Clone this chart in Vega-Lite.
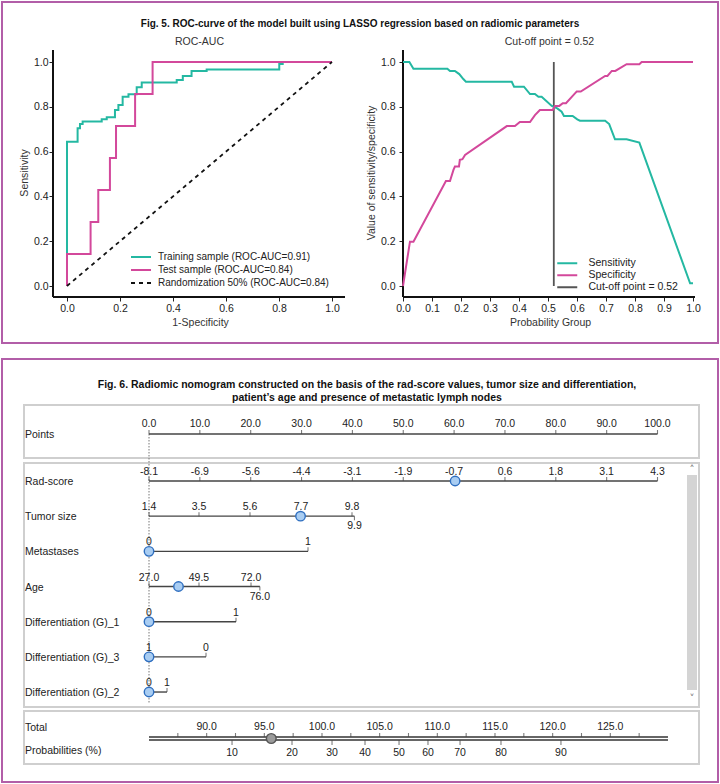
{
  "$schema": "https://vega.github.io/schema/vega-lite/v6.json",
  "padding": {"left": 1, "top": 1, "right": 1, "bottom": 0},
  "spacing": 14,
  "config": {
    "font": "Liberation Sans",
    "view": {"stroke": "#b25ea8", "strokeWidth": 2},
    "axis": {"grid": false, "domain": false, "labelFont": "Liberation Sans", "labelFontSize": 10.5, "labelColor": "#222", "titleFont": "Liberation Sans", "titleFontSize": 10.5, "titleFontWeight": "normal", "titleColor": "#333", "tickColor": "#222", "tickSize": 4, "tickWidth": 1, "labelFlush": false, "labelOverlap": false, "labelBound": false},
    "text": {"font": "Liberation Sans", "fontSize": 10.5, "color": "#222"},
    "title": {"font": "Liberation Sans", "color": "#111"}
  },
  "datasets": {
    "one": [{}],
    "roc": [
      {"series": "Training sample (ROC-AUC=0.91)", "fpr": 0, "tpr": 0},
      {"series": "Training sample (ROC-AUC=0.91)", "fpr": 0, "tpr": 0.644},
      {"series": "Training sample (ROC-AUC=0.91)", "fpr": 0.040, "tpr": 0.704},
      {"series": "Training sample (ROC-AUC=0.91)", "fpr": 0.049, "tpr": 0.723},
      {"series": "Training sample (ROC-AUC=0.91)", "fpr": 0.059, "tpr": 0.734},
      {"series": "Training sample (ROC-AUC=0.91)", "fpr": 0.131, "tpr": 0.744},
      {"series": "Training sample (ROC-AUC=0.91)", "fpr": 0.150, "tpr": 0.753},
      {"series": "Training sample (ROC-AUC=0.91)", "fpr": 0.181, "tpr": 0.786},
      {"series": "Training sample (ROC-AUC=0.91)", "fpr": 0.194, "tpr": 0.808},
      {"series": "Training sample (ROC-AUC=0.91)", "fpr": 0.210, "tpr": 0.845},
      {"series": "Training sample (ROC-AUC=0.91)", "fpr": 0.232, "tpr": 0.856},
      {"series": "Training sample (ROC-AUC=0.91)", "fpr": 0.263, "tpr": 0.887},
      {"series": "Training sample (ROC-AUC=0.91)", "fpr": 0.282, "tpr": 0.908},
      {"series": "Training sample (ROC-AUC=0.91)", "fpr": 0.414, "tpr": 0.920},
      {"series": "Training sample (ROC-AUC=0.91)", "fpr": 0.437, "tpr": 0.938},
      {"series": "Training sample (ROC-AUC=0.91)", "fpr": 0.470, "tpr": 0.960},
      {"series": "Training sample (ROC-AUC=0.91)", "fpr": 0.527, "tpr": 0.967},
      {"series": "Training sample (ROC-AUC=0.91)", "fpr": 0.801, "tpr": 0.991},
      {"series": "Training sample (ROC-AUC=0.91)", "fpr": 0.814, "tpr": 1.0},
      {"series": "Training sample (ROC-AUC=0.91)", "fpr": 1.0, "tpr": 1.0},
      {"series": "Test sample (ROC-AUC=0.84)", "fpr": 0, "tpr": 0},
      {"series": "Test sample (ROC-AUC=0.84)", "fpr": 0, "tpr": 0.143},
      {"series": "Test sample (ROC-AUC=0.84)", "fpr": 0.089, "tpr": 0.286},
      {"series": "Test sample (ROC-AUC=0.84)", "fpr": 0.118, "tpr": 0.429},
      {"series": "Test sample (ROC-AUC=0.84)", "fpr": 0.162, "tpr": 0.571},
      {"series": "Test sample (ROC-AUC=0.84)", "fpr": 0.185, "tpr": 0.714},
      {"series": "Test sample (ROC-AUC=0.84)", "fpr": 0.257, "tpr": 0.857},
      {"series": "Test sample (ROC-AUC=0.84)", "fpr": 0.323, "tpr": 1.0},
      {"series": "Test sample (ROC-AUC=0.84)", "fpr": 1.0, "tpr": 1.0},
      {"series": "Randomization 50% (ROC-AUC=0.84)", "fpr": 0, "tpr": 0},
      {"series": "Randomization 50% (ROC-AUC=0.84)", "fpr": 1, "tpr": 1}
    ],
    "thr": [
      {"series": "Sensitivity", "prob": 0.0, "value": 1.0},
      {"series": "Sensitivity", "prob": 0.022, "value": 1.0},
      {"series": "Sensitivity", "prob": 0.036, "value": 0.97},
      {"series": "Sensitivity", "prob": 0.153, "value": 0.97},
      {"series": "Sensitivity", "prob": 0.162, "value": 0.96},
      {"series": "Sensitivity", "prob": 0.179, "value": 0.96},
      {"series": "Sensitivity", "prob": 0.194, "value": 0.946},
      {"series": "Sensitivity", "prob": 0.208, "value": 0.924},
      {"series": "Sensitivity", "prob": 0.217, "value": 0.912},
      {"series": "Sensitivity", "prob": 0.375, "value": 0.912},
      {"series": "Sensitivity", "prob": 0.383, "value": 0.890},
      {"series": "Sensitivity", "prob": 0.417, "value": 0.890},
      {"series": "Sensitivity", "prob": 0.438, "value": 0.857},
      {"series": "Sensitivity", "prob": 0.455, "value": 0.857},
      {"series": "Sensitivity", "prob": 0.467, "value": 0.845},
      {"series": "Sensitivity", "prob": 0.478, "value": 0.845},
      {"series": "Sensitivity", "prob": 0.513, "value": 0.804},
      {"series": "Sensitivity", "prob": 0.532, "value": 0.793},
      {"series": "Sensitivity", "prob": 0.547, "value": 0.778},
      {"series": "Sensitivity", "prob": 0.555, "value": 0.759},
      {"series": "Sensitivity", "prob": 0.585, "value": 0.759},
      {"series": "Sensitivity", "prob": 0.601, "value": 0.744},
      {"series": "Sensitivity", "prob": 0.610, "value": 0.738},
      {"series": "Sensitivity", "prob": 0.697, "value": 0.738},
      {"series": "Sensitivity", "prob": 0.711, "value": 0.723},
      {"series": "Sensitivity", "prob": 0.731, "value": 0.655},
      {"series": "Sensitivity", "prob": 0.771, "value": 0.655},
      {"series": "Sensitivity", "prob": 0.815, "value": 0.640},
      {"series": "Sensitivity", "prob": 0.990, "value": 0.012},
      {"series": "Sensitivity", "prob": 1.0, "value": 0.012},
      {"series": "Specificity", "prob": 0.0, "value": 0.0},
      {"series": "Specificity", "prob": 0.024, "value": 0.198},
      {"series": "Specificity", "prob": 0.036, "value": 0.198},
      {"series": "Specificity", "prob": 0.148, "value": 0.469},
      {"series": "Specificity", "prob": 0.162, "value": 0.469},
      {"series": "Specificity", "prob": 0.174, "value": 0.518},
      {"series": "Specificity", "prob": 0.179, "value": 0.533},
      {"series": "Specificity", "prob": 0.193, "value": 0.533},
      {"series": "Specificity", "prob": 0.196, "value": 0.563},
      {"series": "Specificity", "prob": 0.205, "value": 0.566},
      {"series": "Specificity", "prob": 0.214, "value": 0.585},
      {"series": "Specificity", "prob": 0.358, "value": 0.714},
      {"series": "Specificity", "prob": 0.386, "value": 0.714},
      {"series": "Specificity", "prob": 0.403, "value": 0.732},
      {"series": "Specificity", "prob": 0.438, "value": 0.732},
      {"series": "Specificity", "prob": 0.455, "value": 0.763},
      {"series": "Specificity", "prob": 0.472, "value": 0.786},
      {"series": "Specificity", "prob": 0.516, "value": 0.786},
      {"series": "Specificity", "prob": 0.524, "value": 0.804},
      {"series": "Specificity", "prob": 0.539, "value": 0.804},
      {"series": "Specificity", "prob": 0.551, "value": 0.816},
      {"series": "Specificity", "prob": 0.562, "value": 0.816},
      {"series": "Specificity", "prob": 0.593, "value": 0.860},
      {"series": "Specificity", "prob": 0.599, "value": 0.868},
      {"series": "Specificity", "prob": 0.613, "value": 0.868},
      {"series": "Specificity", "prob": 0.697, "value": 0.938},
      {"series": "Specificity", "prob": 0.705, "value": 0.938},
      {"series": "Specificity", "prob": 0.720, "value": 0.960},
      {"series": "Specificity", "prob": 0.732, "value": 0.960},
      {"series": "Specificity", "prob": 0.771, "value": 0.990},
      {"series": "Specificity", "prob": 0.815, "value": 0.990},
      {"series": "Specificity", "prob": 0.823, "value": 1.0},
      {"series": "Specificity", "prob": 1.0, "value": 1.0},
      {"series": "Cut-off point = 0.52", "prob": 0.52, "value": 0.0},
      {"series": "Cut-off point = 0.52", "prob": 0.52, "value": 1.0}
    ],
    "pointsTicks": [
      {"pts": 0, "label": "0.0"}, {"pts": 10, "label": "10.0"}, {"pts": 20, "label": "20.0"},
      {"pts": 30, "label": "30.0"}, {"pts": 40, "label": "40.0"}, {"pts": 50, "label": "50.0"},
      {"pts": 60, "label": "60.0"}, {"pts": 70, "label": "70.0"}, {"pts": 80, "label": "80.0"},
      {"pts": 90, "label": "90.0"}, {"pts": 100, "label": "100.0"}
    ],
    "nomoTicks": [
      {"row": 1, "pts": 0, "label": "-8.1", "side": "above"},
      {"row": 1, "pts": 10, "label": "-6.9", "side": "above"},
      {"row": 1, "pts": 20, "label": "-5.6", "side": "above"},
      {"row": 1, "pts": 30, "label": "-4.4", "side": "above"},
      {"row": 1, "pts": 40, "label": "-3.1", "side": "above"},
      {"row": 1, "pts": 50, "label": "-1.9", "side": "above"},
      {"row": 1, "pts": 60, "label": "-0.7", "side": "above"},
      {"row": 1, "pts": 70, "label": "0.6", "side": "above"},
      {"row": 1, "pts": 80, "label": "1.8", "side": "above"},
      {"row": 1, "pts": 90, "label": "3.1", "side": "above"},
      {"row": 1, "pts": 100, "label": "4.3", "side": "above"},
      {"row": 2, "pts": 0, "label": "1.4", "side": "above"},
      {"row": 2, "pts": 9.83, "label": "3.5", "side": "above"},
      {"row": 2, "pts": 19.86, "label": "5.6", "side": "above"},
      {"row": 2, "pts": 29.89, "label": "7.7", "side": "above"},
      {"row": 2, "pts": 39.92, "label": "9.8", "side": "above"},
      {"row": 2, "pts": 40.4, "label": "9.9", "side": "below"},
      {"row": 3, "pts": 0, "label": "0", "side": "above"},
      {"row": 3, "pts": 31.27, "label": "1", "side": "above"},
      {"row": 4, "pts": 0, "label": "27.0", "side": "above"},
      {"row": 4, "pts": 9.83, "label": "49.5", "side": "above"},
      {"row": 4, "pts": 20.06, "label": "72.0", "side": "above"},
      {"row": 4, "pts": 21.8, "label": "76.0", "side": "below"},
      {"row": 5, "pts": 0, "label": "0", "side": "above"},
      {"row": 5, "pts": 17.11, "label": "1", "side": "above"},
      {"row": 6, "pts": 0, "label": "1", "side": "above"},
      {"row": 6, "pts": 11.21, "label": "0", "side": "above"},
      {"row": 7, "pts": 0, "label": "0", "side": "above"},
      {"row": 7, "pts": 3.54, "label": "1", "side": "above"}
    ],
    "nomoLabels": [
      {"row": 1, "name": "Rad-score"},
      {"row": 2, "name": "Tumor size"},
      {"row": 3, "name": "Metastases"},
      {"row": 4, "name": "Age"},
      {"row": 5, "name": "Differentiation (G)_1"},
      {"row": 6, "name": "Differentiation (G)_3"},
      {"row": 7, "name": "Differentiation (G)_2"}
    ],
    "nomoPoints": [
      {"row": 1, "pts": 60.2}, {"row": 2, "pts": 29.8}, {"row": 3, "pts": 0},
      {"row": 4, "pts": 5.8}, {"row": 5, "pts": 0}, {"row": 6, "pts": 0}, {"row": 7, "pts": 0}
    ],
    "totalTicks": [
      {"total": 87.5, "label": ""}, {"total": 90, "label": "90.0"}, {"total": 92.5, "label": ""},
      {"total": 95, "label": "95.0"}, {"total": 97.5, "label": ""}, {"total": 100, "label": "100.0"},
      {"total": 102.5, "label": ""}, {"total": 105, "label": "105.0"}, {"total": 107.5, "label": ""},
      {"total": 110, "label": "110.0"}, {"total": 112.5, "label": ""}, {"total": 115, "label": "115.0"},
      {"total": 117.5, "label": ""}, {"total": 120, "label": "120.0"}, {"total": 122.5, "label": ""},
      {"total": 125, "label": "125.0"}, {"total": 127.5, "label": ""}
    ],
    "probTicks": [
      {"total": 92.2, "prob": "10"}, {"total": 97.4, "prob": "20"}, {"total": 100.87, "prob": "30"},
      {"total": 103.73, "prob": "40"}, {"total": 106.68, "prob": "50"}, {"total": 109.19, "prob": "60"},
      {"total": 111.97, "prob": "70"}, {"total": 115.52, "prob": "80"}, {"total": 120.72, "prob": "90"}
    ],
    "totalPoint": [{"total": 95.6}]
  },
  "vconcat": [
    {
      "width": 716,
      "height": 341,
      "title": {"text": "Fig. 5. ROC-curve of the model built using LASSO regression based on radiomic parameters", "anchor": "middle", "frame": "group", "baseline": "middle", "offset": -32, "fontSize": 10, "fontWeight": "bold"},
      "layer": [
        {
          "layer": [
            {
              "data": {"name": "roc"},
              "transform": [{"filter": "datum.series === 'Training sample (ROC-AUC=0.91)'"}],
              "mark": {"type": "line", "interpolate": "step-after", "strokeWidth": 2},
              "encoding": {
                "x": {"field": "fpr", "type": "quantitative", "scale": {"domain": [-0.24528, 2.4566], "nice": false, "zero": false},
                  "axis": {"orient": "bottom", "offset": -46, "values": [0, 0.2, 0.4, 0.6, 0.8, 1.0], "format": ".1f", "title": "1-Specificity", "titleX": 198, "titlePadding": 4, "labelPadding": 2}},
                "y": {"field": "tpr", "type": "quantitative", "scale": {"domain": [-0.25446, 1.26786], "nice": false, "zero": false},
                  "axis": {"orient": "left", "offset": -51, "values": [0, 0.2, 0.4, 0.6, 0.8, 1.0], "format": ".1f", "title": "Sensitivity", "titlePadding": 4, "labelPadding": 1}},
                "color": {"field": "series", "type": "nominal",
                  "scale": {"domain": ["Training sample (ROC-AUC=0.91)", "Test sample (ROC-AUC=0.84)", "Randomization 50% (ROC-AUC=0.84)"], "range": ["#24b8a2", "#d3489b", "#111111"]},
                  "legend": {"orient": "none", "legendX": 134, "legendY": 250, "title": null, "symbolType": "M-4,0H4", "symbolSize": 25, "symbolStrokeWidth": 2, "labelFontSize": 10, "labelOffset": 12, "rowPadding": 3, "padding": 0, "labelColor": "#222", "labelLimit": 300}},
                "strokeDash": {"field": "series", "type": "nominal",
                  "scale": {"domain": ["Training sample (ROC-AUC=0.91)", "Test sample (ROC-AUC=0.84)", "Randomization 50% (ROC-AUC=0.84)"], "range": [[1, 0], [1, 0], [4, 4]]},
                  "legend": {"orient": "none", "legendX": 134, "legendY": 250, "title": null, "symbolType": "M-4,0H4", "symbolSize": 25, "symbolStrokeWidth": 2, "labelFontSize": 10, "labelOffset": 12, "rowPadding": 3, "padding": 0, "labelColor": "#222", "labelLimit": 300}},
                "order": [{"field": "fpr"}, {"field": "tpr"}]
              }
            },
            {
              "data": {"name": "one"},
              "mark": {"type": "rule", "color": "#111", "strokeWidth": 2},
              "encoding": {
                "x": {"datum": -0.0528, "type": "quantitative", "scale": {"domain": [-0.24528, 2.4566], "nice": false, "zero": false}},
                "y": {"datum": 1.0536, "type": "quantitative", "scale": {"domain": [-0.25446, 1.26786], "nice": false, "zero": false}},
                "y2": {"datum": -0.0491}
              }
            },
            {
              "data": {"name": "one"},
              "mark": {"type": "rule", "color": "#111", "strokeWidth": 2},
              "encoding": {
                "x": {"datum": -0.0528, "type": "quantitative", "scale": {"domain": [-0.24528, 2.4566], "nice": false, "zero": false}},
                "x2": {"datum": 1.0491},
                "y": {"datum": -0.0491, "type": "quantitative", "scale": {"domain": [-0.25446, 1.26786], "nice": false, "zero": false}}
              }
            },
            {
              "data": {"name": "roc"},
              "transform": [{"filter": "datum.series === 'Test sample (ROC-AUC=0.84)'"}],
              "mark": {"type": "line", "interpolate": "step-after", "strokeWidth": 2},
              "encoding": {
                "x": {"field": "fpr", "type": "quantitative", "scale": {"domain": [-0.24528, 2.4566], "nice": false, "zero": false}},
                "y": {"field": "tpr", "type": "quantitative", "scale": {"domain": [-0.25446, 1.26786], "nice": false, "zero": false}},
                "color": {"field": "series", "type": "nominal"},
                "strokeDash": {"field": "series", "type": "nominal"},
                "order": [{"field": "fpr"}, {"field": "tpr"}]
              }
            },
            {
              "data": {"name": "roc"},
              "transform": [{"filter": "datum.series === 'Randomization 50% (ROC-AUC=0.84)'"}],
              "mark": {"type": "line", "strokeWidth": 1.8},
              "encoding": {
                "x": {"field": "fpr", "type": "quantitative", "scale": {"domain": [-0.24528, 2.4566], "nice": false, "zero": false}},
                "y": {"field": "tpr", "type": "quantitative", "scale": {"domain": [-0.25446, 1.26786], "nice": false, "zero": false}},
                "color": {"field": "series", "type": "nominal"},
                "strokeDash": {"field": "series", "type": "nominal"}
              }
            },
            {
              "data": {"name": "one"},
              "mark": {"type": "text", "text": "ROC-AUC", "fontSize": 10.5, "baseline": "middle", "color": "#333"},
              "encoding": {
                "x": {"datum": 0.5, "type": "quantitative", "scale": {"domain": [-0.24528, 2.4566], "nice": false, "zero": false}},
                "y": {"datum": 1.0893, "type": "quantitative", "scale": {"domain": [-0.25446, 1.26786], "nice": false, "zero": false}}
              }
            }
          ]
        },
        {
          "layer": [
            {
              "data": {"name": "thr"},
              "transform": [{"filter": "datum.series === 'Cut-off point = 0.52'"}],
              "mark": {"type": "line", "strokeWidth": 1.8},
              "encoding": {
                "x": {"field": "prob", "type": "quantitative", "scale": {"domain": [-1.38276, 1.08621], "nice": false, "zero": false},
                  "axis": {"orient": "bottom", "offset": -46, "values": [0, 0.1, 0.2, 0.3, 0.4, 0.5, 0.6, 0.7, 0.8, 0.9, 1.0], "format": ".1f", "title": "Probability Group", "titleX": 548, "titlePadding": 4, "labelPadding": 2}},
                "y": {"field": "value", "type": "quantitative", "scale": {"domain": [-0.25446, 1.26786], "nice": false, "zero": false},
                  "axis": {"orient": "left", "offset": -401, "values": [0, 0.2, 0.4, 0.6, 0.8, 1.0], "format": ".1f", "title": "Value of sensitivity/specificity", "titlePadding": 4, "labelPadding": 4}},
                "color": {"field": "series", "type": "nominal",
                  "scale": {"domain": ["Sensitivity", "Specificity", "Cut-off point = 0.52"], "range": ["#24b8a2", "#d3489b", "#555555"]},
                  "legend": {"orient": "none", "legendX": 560, "legendY": 256, "title": null, "symbolType": "M-4,0H4", "symbolSize": 25, "symbolStrokeWidth": 2, "labelFontSize": 10.5, "labelOffset": 16, "rowPadding": 1, "padding": 0, "labelColor": "#222", "labelLimit": 300}},
                "order": {"field": "value"}
              }
            },
            {
              "data": {"name": "one"},
              "mark": {"type": "rule", "color": "#111", "strokeWidth": 2},
              "encoding": {
                "x": {"datum": 0, "type": "quantitative", "scale": {"domain": [-1.38276, 1.08621], "nice": false, "zero": false}},
                "y": {"datum": 1.0536, "type": "quantitative", "scale": {"domain": [-0.25446, 1.26786], "nice": false, "zero": false}},
                "y2": {"datum": -0.0491}
              }
            },
            {
              "data": {"name": "one"},
              "mark": {"type": "rule", "color": "#111", "strokeWidth": 2},
              "encoding": {
                "x": {"datum": 0, "type": "quantitative", "scale": {"domain": [-1.38276, 1.08621], "nice": false, "zero": false}},
                "x2": {"datum": 1.0069},
                "y": {"datum": -0.0491, "type": "quantitative", "scale": {"domain": [-0.25446, 1.26786], "nice": false, "zero": false}}
              }
            },
            {
              "data": {"name": "thr"},
              "transform": [{"filter": "datum.series === 'Sensitivity'"}],
              "mark": {"type": "line", "strokeWidth": 2},
              "encoding": {
                "x": {"field": "prob", "type": "quantitative", "scale": {"domain": [-1.38276, 1.08621], "nice": false, "zero": false}},
                "y": {"field": "value", "type": "quantitative", "scale": {"domain": [-0.25446, 1.26786], "nice": false, "zero": false}},
                "color": {"field": "series", "type": "nominal"}
              }
            },
            {
              "data": {"name": "thr"},
              "transform": [{"filter": "datum.series === 'Specificity'"}],
              "mark": {"type": "line", "strokeWidth": 2},
              "encoding": {
                "x": {"field": "prob", "type": "quantitative", "scale": {"domain": [-1.38276, 1.08621], "nice": false, "zero": false}},
                "y": {"field": "value", "type": "quantitative", "scale": {"domain": [-0.25446, 1.26786], "nice": false, "zero": false}},
                "color": {"field": "series", "type": "nominal"}
              }
            },
            {
              "data": {"name": "one"},
              "mark": {"type": "text", "text": "Cut-off point = 0.52", "fontSize": 10.5, "baseline": "middle", "color": "#333"},
              "encoding": {
                "x": {"datum": 0.505, "type": "quantitative", "scale": {"domain": [-1.38276, 1.08621], "nice": false, "zero": false}},
                "y": {"datum": 1.0893, "type": "quantitative", "scale": {"domain": [-0.25446, 1.26786], "nice": false, "zero": false}}
              }
            }
          ]
        }
      ],
      "resolve": {
        "scale": {"x": "independent", "y": "independent", "color": "independent", "strokeDash": "independent"},
        "axis": {"x": "independent", "y": "independent"},
        "legend": {"color": "independent", "strokeDash": "independent"}
      }
    },
    {
      "width": 716,
      "height": 423,
      "title": {"text": ["Fig. 6. Radiomic nomogram constructed on the basis of the rad-score values, tumor size and differentiation,", "patient’s age and presence of metastatic lymph nodes"], "anchor": "middle", "frame": "group", "baseline": "middle", "offset": -49, "dx": 7, "lineHeight": 13, "fontSize": 10.5, "fontWeight": "bold"},
      "layer": [
        {
          "layer": [
            {
              "data": {"name": "one"},
              "mark": {"type": "rect", "fill": "#ffffff", "stroke": "#cfcfcf", "strokeWidth": 2},
              "encoding": {
                "x": {"datum": -24.58, "type": "quantitative", "scale": {"domain": [-28.909, 111.897], "nice": false, "zero": false}, "axis": null},
                "x2": {"datum": 108.16},
                "y": {"datum": -1.161, "type": "quantitative", "scale": {"domain": [-2.4689, 9.5585], "nice": false, "zero": false, "reverse": true}, "axis": null},
                "y2": {"datum": 0.346}
              }
            },
            {
              "data": {"name": "one"},
              "mark": {"type": "rect", "fill": "#ffffff", "stroke": "#cfcfcf", "strokeWidth": 2},
              "encoding": {
                "x": {"datum": -24.58, "type": "quantitative", "scale": {"domain": [-28.909, 111.897], "nice": false, "zero": false}, "axis": null},
                "x2": {"datum": 108.16},
                "y": {"datum": 0.4882, "type": "quantitative", "scale": {"domain": [-2.4689, 9.5585], "nice": false, "zero": false, "reverse": true}, "axis": null},
                "y2": {"datum": 7.4259}
              }
            },
            {
              "data": {"name": "one"},
              "mark": {"type": "rect", "fill": "#ffffff", "stroke": "#cfcfcf", "strokeWidth": 2},
              "encoding": {
                "x": {"datum": -24.58, "type": "quantitative", "scale": {"domain": [-28.909, 111.897], "nice": false, "zero": false}, "axis": null},
                "x2": {"datum": 108.16},
                "y": {"datum": 7.5397, "type": "quantitative", "scale": {"domain": [-2.4689, 9.5585], "nice": false, "zero": false, "reverse": true}, "axis": null},
                "y2": {"datum": 9.0466}
              }
            },
            {
              "data": {"name": "one"},
              "mark": {"type": "rect", "fill": "#d4d4d4"},
              "encoding": {
                "x": {"datum": 105.8, "type": "quantitative", "scale": {"domain": [-28.909, 111.897], "nice": false, "zero": false}, "axis": null},
                "x2": {"datum": 107.77},
                "y": {"datum": 0.8294, "type": "quantitative", "scale": {"domain": [-2.4689, 9.5585], "nice": false, "zero": false, "reverse": true}, "axis": null},
                "y2": {"datum": 6.9426}
              }
            },
            {
              "data": {"name": "one"},
              "mark": {"type": "text", "text": "˄", "fontSize": 10, "color": "#777", "font": "DejaVu Sans"},
              "encoding": {
                "x": {"datum": 106.78, "type": "quantitative", "scale": {"domain": [-28.909, 111.897], "nice": false, "zero": false}, "axis": null},
                "y": {"datum": 0.68, "type": "quantitative", "scale": {"domain": [-2.4689, 9.5585], "nice": false, "zero": false, "reverse": true}, "axis": null}
              }
            },
            {
              "data": {"name": "one"},
              "mark": {"type": "text", "text": "˅", "fontSize": 10, "color": "#777", "font": "DejaVu Sans"},
              "encoding": {
                "x": {"datum": 106.78, "type": "quantitative", "scale": {"domain": [-28.909, 111.897], "nice": false, "zero": false}, "axis": null},
                "y": {"datum": 7.2, "type": "quantitative", "scale": {"domain": [-2.4689, 9.5585], "nice": false, "zero": false, "reverse": true}, "axis": null}
              }
            },
            {
              "data": {"name": "one"},
              "mark": {"type": "rule", "color": "#777", "strokeWidth": 1, "strokeDash": [1.5, 1.5]},
              "encoding": {
                "x": {"datum": 0, "type": "quantitative", "scale": {"domain": [-28.909, 111.897], "nice": false, "zero": false}, "axis": null},
                "y": {"datum": -0.3364, "type": "quantitative", "scale": {"domain": [-2.4689, 9.5585], "nice": false, "zero": false, "reverse": true}, "axis": null},
                "y2": {"datum": 7.3406}
              }
            },
            {
              "data": {"name": "pointsTicks"},
              "mark": {"type": "rule", "color": "#444", "strokeWidth": 1.4},
              "encoding": {
                "x": {"aggregate": "min", "field": "pts", "type": "quantitative", "scale": {"domain": [-28.909, 111.897], "nice": false, "zero": false}, "axis": null},
                "x2": {"aggregate": "max", "field": "pts"},
                "y": {"datum": -0.3364, "type": "quantitative", "scale": {"domain": [-2.4689, 9.5585], "nice": false, "zero": false, "reverse": true}, "axis": null}
              }
            },
            {
              "data": {"name": "pointsTicks"},
              "mark": {"type": "tick", "orient": "vertical", "size": 4, "thickness": 1.1, "color": "#444", "yOffset": -2},
              "encoding": {
                "x": {"field": "pts", "type": "quantitative", "scale": {"domain": [-28.909, 111.897], "nice": false, "zero": false}, "axis": null},
                "y": {"datum": -0.3364, "type": "quantitative", "scale": {"domain": [-2.4689, 9.5585], "nice": false, "zero": false, "reverse": true}, "axis": null}
              }
            },
            {
              "data": {"name": "pointsTicks"},
              "mark": {"type": "text", "dy": -10, "baseline": "middle"},
              "encoding": {
                "x": {"field": "pts", "type": "quantitative", "scale": {"domain": [-28.909, 111.897], "nice": false, "zero": false}, "axis": null},
                "y": {"datum": -0.3364, "type": "quantitative", "scale": {"domain": [-2.4689, 9.5585], "nice": false, "zero": false, "reverse": true}, "axis": null},
                "text": {"field": "label", "type": "nominal"}
              }
            },
            {
              "data": {"name": "one"},
              "mark": {"type": "text", "text": "Points", "align": "left", "baseline": "middle", "dy": 1},
              "encoding": {
                "x": {"datum": -24.39, "type": "quantitative", "scale": {"domain": [-28.909, 111.897], "nice": false, "zero": false}, "axis": null},
                "y": {"datum": -0.3364, "type": "quantitative", "scale": {"domain": [-2.4689, 9.5585], "nice": false, "zero": false, "reverse": true}, "axis": null}
              }
            },
            {
              "data": {"name": "nomoTicks"},
              "transform": [{"aggregate": [{"op": "min", "field": "pts", "as": "lo"}, {"op": "max", "field": "pts", "as": "hi"}], "groupby": ["row"]}],
              "mark": {"type": "rule", "color": "#444", "strokeWidth": 1.4},
              "encoding": {
                "x": {"field": "lo", "type": "quantitative", "scale": {"domain": [-28.909, 111.897], "nice": false, "zero": false}, "axis": null},
                "x2": {"field": "hi"},
                "y": {"field": "row", "type": "quantitative", "scale": {"domain": [-2.4689, 9.5585], "nice": false, "zero": false, "reverse": true}, "axis": null}
              }
            },
            {
              "data": {"name": "nomoTicks"},
              "transform": [{"filter": "datum.side === 'above'"}],
              "mark": {"type": "tick", "orient": "vertical", "size": 4, "thickness": 1.1, "color": "#444", "yOffset": -2},
              "encoding": {
                "x": {"field": "pts", "type": "quantitative", "scale": {"domain": [-28.909, 111.897], "nice": false, "zero": false}, "axis": null},
                "y": {"field": "row", "type": "quantitative", "scale": {"domain": [-2.4689, 9.5585], "nice": false, "zero": false, "reverse": true}, "axis": null}
              }
            },
            {
              "data": {"name": "nomoTicks"},
              "transform": [{"filter": "datum.side === 'below'"}],
              "mark": {"type": "tick", "orient": "vertical", "size": 4, "thickness": 1.1, "color": "#444", "yOffset": 2},
              "encoding": {
                "x": {"field": "pts", "type": "quantitative", "scale": {"domain": [-28.909, 111.897], "nice": false, "zero": false}, "axis": null},
                "y": {"field": "row", "type": "quantitative", "scale": {"domain": [-2.4689, 9.5585], "nice": false, "zero": false, "reverse": true}, "axis": null}
              }
            },
            {
              "data": {"name": "nomoTicks"},
              "transform": [{"filter": "datum.side === 'above'"}],
              "mark": {"type": "text", "dy": -9, "baseline": "middle"},
              "encoding": {
                "x": {"field": "pts", "type": "quantitative", "scale": {"domain": [-28.909, 111.897], "nice": false, "zero": false}, "axis": null},
                "y": {"field": "row", "type": "quantitative", "scale": {"domain": [-2.4689, 9.5585], "nice": false, "zero": false, "reverse": true}, "axis": null},
                "text": {"field": "label", "type": "nominal"}
              }
            },
            {
              "data": {"name": "nomoTicks"},
              "transform": [{"filter": "datum.side === 'below'"}],
              "mark": {"type": "text", "dy": 10, "baseline": "middle"},
              "encoding": {
                "x": {"field": "pts", "type": "quantitative", "scale": {"domain": [-28.909, 111.897], "nice": false, "zero": false}, "axis": null},
                "y": {"field": "row", "type": "quantitative", "scale": {"domain": [-2.4689, 9.5585], "nice": false, "zero": false, "reverse": true}, "axis": null},
                "text": {"field": "label", "type": "nominal"}
              }
            },
            {
              "data": {"name": "nomoLabels"},
              "mark": {"type": "text", "align": "left", "baseline": "middle", "dy": 1},
              "encoding": {
                "x": {"datum": -24.39, "type": "quantitative", "scale": {"domain": [-28.909, 111.897], "nice": false, "zero": false}, "axis": null},
                "y": {"field": "row", "type": "quantitative", "scale": {"domain": [-2.4689, 9.5585], "nice": false, "zero": false, "reverse": true}, "axis": null},
                "text": {"field": "name", "type": "nominal"}
              }
            },
            {
              "data": {"name": "nomoPoints"},
              "mark": {"type": "point", "shape": "circle", "filled": true, "fill": "#a9cdf2", "stroke": "#2f6fc0", "strokeWidth": 1.4, "size": 90, "opacity": 1},
              "encoding": {
                "x": {"field": "pts", "type": "quantitative", "scale": {"domain": [-28.909, 111.897], "nice": false, "zero": false}, "axis": null},
                "y": {"field": "row", "type": "quantitative", "scale": {"domain": [-2.4689, 9.5585], "nice": false, "zero": false, "reverse": true}, "axis": null}
              }
            },
            {
              "data": {"name": "one"},
              "mark": {"type": "text", "text": "Total", "align": "left", "baseline": "middle", "dy": -10.5},
              "encoding": {
                "x": {"datum": -24.39, "type": "quantitative", "scale": {"domain": [-28.909, 111.897], "nice": false, "zero": false}, "axis": null},
                "y": {"datum": 8.3216, "type": "quantitative", "scale": {"domain": [-2.4689, 9.5585], "nice": false, "zero": false, "reverse": true}, "axis": null}
              }
            },
            {
              "data": {"name": "one"},
              "mark": {"type": "text", "text": "Probabilities (%)", "align": "left", "baseline": "middle", "dy": 12.5},
              "encoding": {
                "x": {"datum": -24.39, "type": "quantitative", "scale": {"domain": [-28.909, 111.897], "nice": false, "zero": false}, "axis": null},
                "y": {"datum": 8.3216, "type": "quantitative", "scale": {"domain": [-2.4689, 9.5585], "nice": false, "zero": false, "reverse": true}, "axis": null}
              }
            }
          ]
        },
        {
          "layer": [
            {
              "data": {"name": "one"},
              "mark": {"type": "rule", "color": "#333", "strokeWidth": 1.5, "yOffset": -1.5},
              "encoding": {
                "x": {"datum": 85, "type": "quantitative", "scale": {"domain": [72.254, 134.337], "nice": false, "zero": false}, "axis": null},
                "x2": {"datum": 130},
                "y": {"datum": 8.3216, "type": "quantitative", "scale": {"domain": [-2.4689, 9.5585], "nice": false, "zero": false, "reverse": true}, "axis": null}
              }
            },
            {
              "data": {"name": "one"},
              "mark": {"type": "rule", "color": "#333", "strokeWidth": 1.5, "yOffset": 1.5},
              "encoding": {
                "x": {"datum": 85, "type": "quantitative", "scale": {"domain": [72.254, 134.337], "nice": false, "zero": false}, "axis": null},
                "x2": {"datum": 130},
                "y": {"datum": 8.3216, "type": "quantitative", "scale": {"domain": [-2.4689, 9.5585], "nice": false, "zero": false, "reverse": true}, "axis": null}
              }
            },
            {
              "data": {"name": "totalTicks"},
              "mark": {"type": "tick", "orient": "vertical", "size": 4, "thickness": 1.1, "color": "#444", "yOffset": -3.5},
              "encoding": {
                "x": {"field": "total", "type": "quantitative", "scale": {"domain": [72.254, 134.337], "nice": false, "zero": false}, "axis": null},
                "y": {"datum": 8.3216, "type": "quantitative", "scale": {"domain": [-2.4689, 9.5585], "nice": false, "zero": false, "reverse": true}, "axis": null}
              }
            },
            {
              "data": {"name": "totalTicks"},
              "mark": {"type": "text", "dy": -11.5, "baseline": "middle"},
              "encoding": {
                "x": {"field": "total", "type": "quantitative", "scale": {"domain": [72.254, 134.337], "nice": false, "zero": false}, "axis": null},
                "y": {"datum": 8.3216, "type": "quantitative", "scale": {"domain": [-2.4689, 9.5585], "nice": false, "zero": false, "reverse": true}, "axis": null},
                "text": {"field": "label", "type": "nominal"}
              }
            },
            {
              "data": {"name": "probTicks"},
              "mark": {"type": "tick", "orient": "vertical", "size": 5, "thickness": 1.1, "color": "#444", "yOffset": 4},
              "encoding": {
                "x": {"field": "total", "type": "quantitative", "scale": {"domain": [72.254, 134.337], "nice": false, "zero": false}, "axis": null},
                "y": {"datum": 8.3216, "type": "quantitative", "scale": {"domain": [-2.4689, 9.5585], "nice": false, "zero": false, "reverse": true}, "axis": null}
              }
            },
            {
              "data": {"name": "probTicks"},
              "mark": {"type": "text", "dy": 14.5, "baseline": "middle"},
              "encoding": {
                "x": {"field": "total", "type": "quantitative", "scale": {"domain": [72.254, 134.337], "nice": false, "zero": false}, "axis": null},
                "y": {"datum": 8.3216, "type": "quantitative", "scale": {"domain": [-2.4689, 9.5585], "nice": false, "zero": false, "reverse": true}, "axis": null},
                "text": {"field": "prob", "type": "nominal"}
              }
            },
            {
              "data": {"name": "totalPoint"},
              "mark": {"type": "point", "shape": "circle", "filled": true, "fill": "#9b9b9b", "stroke": "#555", "strokeWidth": 1.4, "size": 95, "opacity": 1},
              "encoding": {
                "x": {"field": "total", "type": "quantitative", "scale": {"domain": [72.254, 134.337], "nice": false, "zero": false}, "axis": null},
                "y": {"datum": 8.3216, "type": "quantitative", "scale": {"domain": [-2.4689, 9.5585], "nice": false, "zero": false, "reverse": true}, "axis": null}
              }
            }
          ]
        }
      ],
      "resolve": {"scale": {"x": "independent"}}
    }
  ]
}
